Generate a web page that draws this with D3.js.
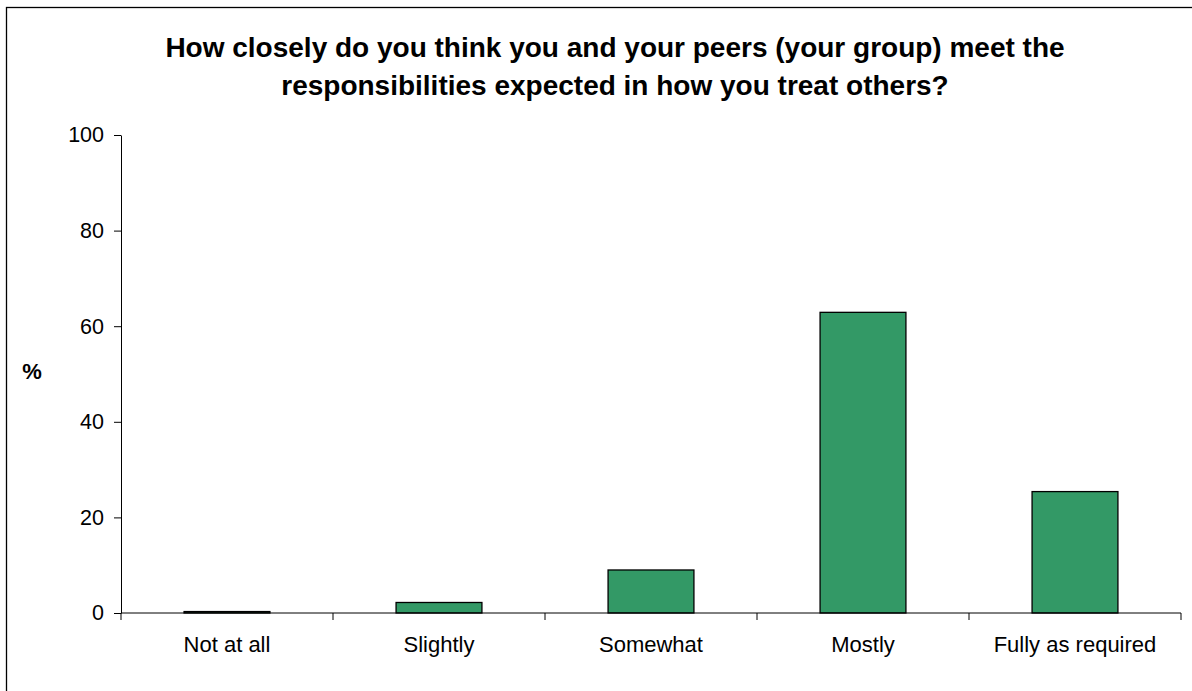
<!DOCTYPE html>
<html>
<head>
<meta charset="utf-8">
<script src="https://cdn.jsdelivr.net/npm/d3@7"></script>
<style>
  html, body { margin: 0; padding: 0; background: #fff; }
  svg { display: block; }
  text { font-family: "Liberation Sans", Arial, sans-serif; fill: #000; }
</style>
</head>
<body>
<svg id="chart" width="1192" height="691"></svg>
<script>
const categories = ["Not at all", "Slightly", "Somewhat", "Mostly", "Fully as required"];
const values = [0.3, 2.2, 9.0, 62.9, 25.4];
const yTicks = [0, 20, 40, 60, 80, 100];
const titleLines = [
  "How closely do you think you and your peers (your group) meet the",
  "responsibilities expected in how you treat others?"
];
const yLabel = "%";

const svg = d3.select("#chart");
const W = 1192, H = 691;
const plot = { left: 121, right: 1181, top: 135, bottom: 613 };

svg.append("rect").attr("x", 0).attr("y", 0).attr("width", W).attr("height", H).attr("fill", "#fff");
// outer frame (extends beyond the picture on the right and bottom)
svg.append("rect")
  .attr("x", 6.5).attr("y", 7.5).attr("width", 1200).attr("height", 700)
  .attr("fill", "none").attr("stroke", "#000").attr("stroke-width", 1.3);

const x = d3.scaleBand().domain(categories).range([plot.left, plot.right]).padding(0);
const y = d3.scaleLinear().domain([0, 100]).range([plot.bottom, plot.top]);

// title
svg.append("text")
  .attr("x", 615).attr("y", 57)
  .attr("text-anchor", "middle")
  .style("font-size", "28px").style("font-weight", "bold")
  .selectAll("tspan").data(titleLines).join("tspan")
  .attr("x", 615).attr("dy", (d, i) => i === 0 ? 0 : 38)
  .text(d => d);

// y label
svg.append("text")
  .attr("x", 32).attr("y", 379)
  .attr("text-anchor", "middle")
  .style("font-size", "22px").style("font-weight", "bold")
  .text(yLabel);

// bars
const barW = x.bandwidth() * 0.405;
svg.append("g").selectAll("rect").data(categories).join("rect")
  .attr("x", d => x(d) + (x.bandwidth() - barW) / 2)
  .attr("y", (d, i) => y(values[i]))
  .attr("width", barW)
  .attr("height", (d, i) => y(0) - y(values[i]))
  .attr("fill", "#339966")
  .attr("stroke", "#000")
  .attr("stroke-width", 1.3);

// y axis
const yAxis = d3.axisLeft(y).tickValues(yTicks).tickSize(7).tickPadding(10).tickSizeOuter(0);
const gy = svg.append("g").attr("transform", `translate(${plot.left},0)`).call(yAxis);
gy.select(".domain").attr("stroke", "#000").attr("stroke-width", 1);
gy.selectAll(".tick line").attr("stroke", "#000");
gy.selectAll(".tick text").style("font-size", "21.5px").style("font-family", "'Liberation Sans', Arial, sans-serif").attr("fill", "#000");

// x axis: line, boundary ticks, labels
const gx = svg.append("g");
gx.append("line")
  .attr("x1", plot.left).attr("x2", plot.right)
  .attr("y1", y(0)).attr("y2", y(0))
  .attr("stroke", "#000").attr("stroke-width", 1);
const boundaries = categories.map(c => x(c)).concat([x(categories[categories.length - 1]) + x.bandwidth()]);
gx.selectAll("line.tk").data(boundaries).join("line").attr("class", "tk")
  .attr("x1", d => d).attr("x2", d => d)
  .attr("y1", y(0)).attr("y2", y(0) + 7)
  .attr("stroke", "#000").attr("stroke-width", 1);
gx.selectAll("text").data(categories).join("text")
  .attr("x", d => x(d) + x.bandwidth() / 2)
  .attr("y", 652)
  .attr("text-anchor", "middle")
  .style("font-size", "22px")
  .text(d => d);
</script>
</body>
</html>
